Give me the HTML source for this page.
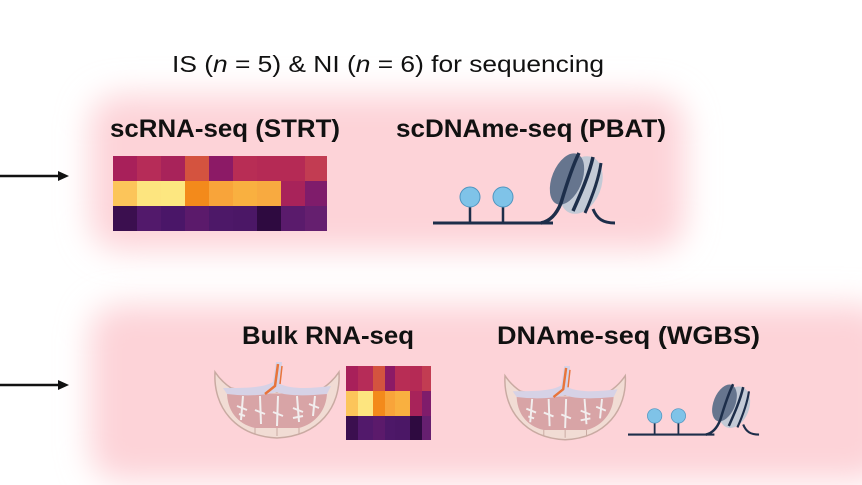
<!DOCTYPE html>
<html><head><meta charset="utf-8"><style>
html,body{margin:0;padding:0;background:#fff;}
svg{display:block;}
text{font-family:"Liberation Sans",Arial,sans-serif;}
</style></head><body>
<svg width="862" height="485" viewBox="0 0 862 485" xmlns="http://www.w3.org/2000/svg">
<defs>
<filter id="blur" x="-20%" y="-40%" width="140%" height="180%"><feGaussianBlur stdDeviation="16"/></filter>
<g id="placenta">
<path d="M0,10 C-2,45 20,74 62,76 C104,74 126,45 124,10 C120,16 114,22 108,26 C90,30 75,28 62,30 C48,28 32,30 16,26 C10,22 4,16 0,10 Z" fill="#f1dcd4" stroke="#c9aaa2" stroke-width="1.5"/>
<path d="M12,30 C40,32 84,32 112,30 C112,48 100,62 84,66 L40,66 C22,62 12,48 12,30 Z" fill="#d8a4a6"/>
<path d="M8,26 C30,26 48,26 58,20 L61,0 L67,0 L65,22 C78,28 98,26 116,24 L112,32 C90,34 72,34 62,30 C48,34 28,34 12,32 Z" fill="#d6d2e6"/>
<path d="M63,2 L60,24 L50,32" stroke="#e8743a" stroke-width="2.5" fill="none"/>
<path d="M67,4 L65,22" stroke="#e8743a" stroke-width="1.5" fill="none"/>
<g stroke="#f2eeee" stroke-width="2" fill="none">
<path d="M28,34 L26,58 M45,34 L46,62 M63,34 L62,64 M82,34 L84,60 M100,34 L98,54"/>
<path d="M22,44 L32,48 M40,48 L50,52 M58,50 L68,54 M78,46 L88,50 M94,42 L104,46 M24,52 L30,54 M78,56 L88,54"/>
</g>
<path d="M40,66 L40,72 M62,66 L62,74 M84,66 L84,72" stroke="#c9aaa2" stroke-width="1"/>
</g>
<g id="nuc">
<path d="M0,30 L120,30" stroke="#1d2e4a" stroke-width="3"/>
<path d="M37,30 L37,12 M70,30 L70,12" stroke="#1d2e4a" stroke-width="2.5"/>
<circle cx="37" cy="4" r="10" fill="#7fc3e8" stroke="#4f95c0"/>
<circle cx="70" cy="4" r="10" fill="#7fc3e8" stroke="#4f95c0"/>
<ellipse cx="148" cy="-8" rx="20" ry="30" transform="rotate(22 148 -8)" fill="#c3cad6"/>
<ellipse cx="134" cy="-14" rx="15" ry="27" transform="rotate(22 134 -14)" fill="#66758e"/>
<path d="M108,30 C118,28 124,20 128,10 C134,-10 140,-28 146,-40" stroke="#1d2e4a" stroke-width="3.5" fill="none"/>
<path d="M140,18 C148,0 156,-18 160,-36" stroke="#1d2e4a" stroke-width="3.5" fill="none"/>
<path d="M152,20 C160,2 166,-16 168,-30" stroke="#1d2e4a" stroke-width="3" fill="none"/>
<path d="M160,16 C164,26 170,30 182,30" stroke="#1d2e4a" stroke-width="3" fill="none"/>
</g>
</defs>
<rect x="90" y="95" width="595" height="155" rx="30" fill="#fdd3d8" filter="url(#blur)"/>
<rect x="90" y="305" width="800" height="175" rx="30" fill="#fdd3d8" filter="url(#blur)"/>
<text x="388" y="72" font-size="23" text-anchor="middle" fill="#111" textLength="432" lengthAdjust="spacingAndGlyphs">IS (<tspan font-style="italic">n</tspan> = 5) &amp; NI (<tspan font-style="italic">n</tspan> = 6) for sequencing</text>
<g font-weight="bold" font-size="25" fill="#111">
<text x="110" y="137" textLength="230" lengthAdjust="spacingAndGlyphs">scRNA-seq (STRT)</text>
<text x="396" y="137" textLength="270" lengthAdjust="spacingAndGlyphs">scDNAme-seq (PBAT)</text>
<text x="242" y="344" textLength="172" lengthAdjust="spacingAndGlyphs">Bulk RNA-seq</text>
<text x="497" y="344" textLength="263" lengthAdjust="spacingAndGlyphs">DNAme-seq (WGBS)</text>
</g>
<g stroke="#111" stroke-width="2.5"><path d="M0,176 L60,176 M0,385 L60,385"/></g>
<path d="M58,171 L69,176 L58,181 Z M58,380 L69,385 L58,390 Z" fill="#111"/>
<g transform="translate(113,156)">
<rect x="0" y="0" width="24" height="25" fill="#a8205a"/><rect x="24" y="0" width="24" height="25" fill="#b62c58"/><rect x="48" y="0" width="24" height="25" fill="#a8235a"/><rect x="72" y="0" width="24" height="25" fill="#d4533f"/><rect x="96" y="0" width="24" height="25" fill="#8c1a66"/><rect x="120" y="0" width="24" height="25" fill="#b82d55"/><rect x="144" y="0" width="24" height="25" fill="#b52a55"/><rect x="168" y="0" width="24" height="25" fill="#b52a55"/><rect x="192" y="0" width="22" height="25" fill="#c23c52"/>
<rect x="0" y="25" width="24" height="25" fill="#fcc55a"/><rect x="24" y="25" width="24" height="25" fill="#fde57f"/><rect x="48" y="25" width="24" height="25" fill="#fde780"/><rect x="72" y="25" width="24" height="25" fill="#f38a1b"/><rect x="96" y="25" width="24" height="25" fill="#f8a43a"/><rect x="120" y="25" width="24" height="25" fill="#f9b040"/><rect x="144" y="25" width="24" height="25" fill="#f8aa40"/><rect x="168" y="25" width="24" height="25" fill="#a8235a"/><rect x="192" y="25" width="22" height="25" fill="#7f1c6b"/>
<rect x="0" y="50" width="24" height="25" fill="#3b0f4f"/><rect x="24" y="50" width="24" height="25" fill="#52196b"/><rect x="48" y="50" width="24" height="25" fill="#4a1668"/><rect x="72" y="50" width="24" height="25" fill="#5b1a6b"/><rect x="96" y="50" width="24" height="25" fill="#4d1868"/><rect x="120" y="50" width="24" height="25" fill="#4b1766"/><rect x="144" y="50" width="24" height="25" fill="#2e0a40"/><rect x="168" y="50" width="24" height="25" fill="#5a1b6c"/><rect x="192" y="50" width="22" height="25" fill="#651f6f"/>
</g>
<g transform="translate(346,366)">
<rect x="0" y="0" width="12" height="25" fill="#a8205a"/><rect x="12" y="0" width="15" height="25" fill="#b62c58"/><rect x="27" y="0" width="12" height="25" fill="#d4533f"/><rect x="39" y="0" width="10" height="25" fill="#8c1a66"/><rect x="49" y="0" width="15" height="25" fill="#b82d55"/><rect x="64" y="0" width="12" height="25" fill="#b52a55"/><rect x="76" y="0" width="9" height="25" fill="#c23c52"/>
<rect x="0" y="25" width="12" height="25" fill="#fcc55a"/><rect x="12" y="25" width="15" height="25" fill="#fde57f"/><rect x="27" y="25" width="12" height="25" fill="#f38a1b"/><rect x="39" y="25" width="10" height="25" fill="#f8a43a"/><rect x="49" y="25" width="15" height="25" fill="#f9b040"/><rect x="64" y="25" width="12" height="25" fill="#a8235a"/><rect x="76" y="25" width="9" height="25" fill="#7f1c6b"/>
<rect x="0" y="50" width="12" height="24" fill="#3b0f4f"/><rect x="12" y="50" width="15" height="24" fill="#52196b"/><rect x="27" y="50" width="12" height="24" fill="#5b1a6b"/><rect x="39" y="50" width="10" height="24" fill="#4d1868"/><rect x="49" y="50" width="15" height="24" fill="#4b1766"/><rect x="64" y="50" width="12" height="24" fill="#2e0a40"/><rect x="76" y="50" width="9" height="24" fill="#651f6f"/>
</g>
<use href="#nuc" transform="translate(433,193)"/>
<use href="#nuc" transform="translate(628,413) scale(0.72)"/>
<use href="#placenta" transform="translate(215,362)"/>
<use href="#placenta" transform="translate(505,366) scale(0.97)"/>
</svg>
</body></html>
